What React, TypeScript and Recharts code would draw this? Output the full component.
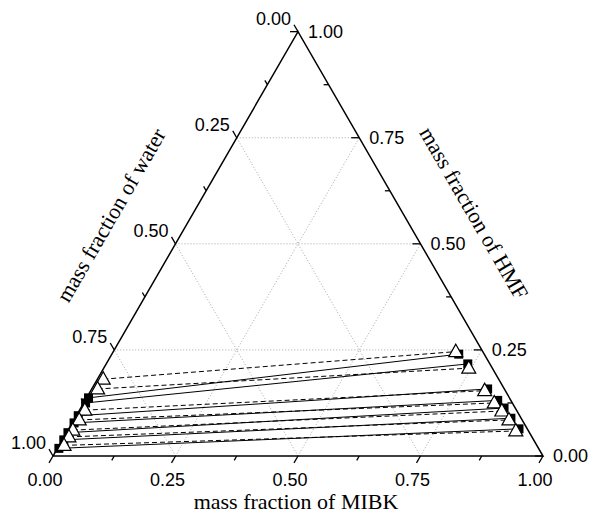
import React from 'react';
import { ScatterChart, Scatter, XAxis, YAxis, ReferenceLine } from 'recharts';

// ---------- data (mass fractions: MIBK, HMF; water = 1 - MIBK - HMF) ----------
// experimental tie lines (solid, filled squares)
const solidLeftMIBK = [0.004, 0.004, 0.004, 0.004, 0.003, 0.003, 0.003];
const solidLeftHMF = [0.137, 0.125, 0.095, 0.078, 0.055, 0.038, 0.018];
const solidRightMIBK = [0.708, 0.738, 0.808, 0.842, 0.864, 0.890, 0.919];
const solidRightHMF = [0.240, 0.217, 0.158, 0.131, 0.113, 0.089, 0.064];
// calculated tie lines (dashed, open triangles)
const dashedLeftMIBK = [0.012, 0.012, 0.011, 0.011, 0.010, 0.010, 0.010];
const dashedLeftHMF = [0.181, 0.158, 0.108, 0.085, 0.061, 0.045, 0.025];
const dashedRightMIBK = [0.699, 0.745, 0.804, 0.838, 0.863, 0.888, 0.915];
const dashedRightHMF = [0.246, 0.207, 0.154, 0.125, 0.106, 0.085, 0.059];

const majorTicks = [0, 0.25, 0.5, 0.75, 1];
const majorTickLabels = ['0.00', '0.25', '0.50', '0.75', '1.00'];
const minorTicks = [0.125, 0.375, 0.625, 0.875];
const gridValues = [0.25, 0.5, 0.75];

const titleBottom = 'mass fraction of MIBK';
const titleLeft = 'mass fraction of water';
const titleRight = 'mass fraction of HMF';

// ---------- layout ----------
const W = 593;
const H = 514;
const X0 = 53;
const Y0 = 456;
const SIDE = 490;
const xDomain = [-X0 / SIDE, (W - X0) / SIDE];
const yDomain = [(Y0 - H) / SIDE, Y0 / SIDE];
const S3 = Math.sqrt(3) / 2;
const tern = (mibk: number, hmf: number) => ({ x: mibk + hmf / 2, y: hmf * S3 });

const SANS = 'Liberation Sans, Arial, sans-serif';
const SERIF = 'Liberation Serif, Times New Roman, serif';

const MAJ = 8 / SIDE;
const MIN = 5 / SIDE;

const Square = (p: any) => (
  <rect x={p.cx - 4.5} y={p.cy - 4.5} width={9} height={9} fill="#000" />
);
const Tri = (p: any) => (
  <polygon
    points={`${p.cx},${p.cy - 7.5} ${p.cx - 7},${p.cy + 5} ${p.cx + 7},${p.cy + 5}`}
    fill="#fff"
    stroke="#000"
    strokeWidth={1.2}
  />
);
const None = () => null;

const makeText = (dx: number, dy: number, anchor: string, size: number, family: string, rot = 0) =>
  (p: any) => {
    const x = p.cx + dx;
    const y = p.cy + dy;
    return (
      <text
        x={x}
        y={y}
        textAnchor={anchor}
        fontSize={size}
        fontFamily={family}
        fill="#000"
        transform={rot ? `rotate(${rot} ${x} ${y})` : undefined}
      >
        {p.payload.label}
      </text>
    );
  };

export default function App() {
  const segs: { a: any; b: any; kind: string }[] = [];
  // grid
  gridValues.forEach((v) => {
    segs.push({ a: tern(0, v), b: tern(1 - v, v), kind: 'grid' });
    segs.push({ a: tern(v, 0), b: tern(v, 1 - v), kind: 'grid' });
    segs.push({ a: tern(1 - v, 0), b: tern(0, 1 - v), kind: 'grid' });
  });
  // ticks
  const addTicks = (vals: number[], L: number) => {
    vals.forEach((t) => {
      const b = tern(t, 0);
      segs.push({ a: b, b: { x: b.x - 0.5 * L, y: b.y - S3 * L }, kind: 'tick' });
      const l = tern(0, 1 - t);
      segs.push({ a: l, b: { x: l.x - 0.5 * L, y: l.y + S3 * L }, kind: 'tick' });
      const r = tern(1 - t, t);
      segs.push({ a: r, b: { x: r.x - L, y: r.y }, kind: 'tick' });
    });
  };
  addTicks(majorTicks, MAJ);
  addTicks(minorTicks, MIN);

  const edge = [tern(0, 0), tern(1, 0), tern(0, 1), tern(0, 0)];

  const bottomLabels = majorTicks.map((t, i) => ({ ...tern(t, 0), label: majorTickLabels[i] }));
  const leftLabels = majorTicks.map((t, i) => ({ ...tern(0, 1 - t), label: majorTickLabels[i] }));
  const rightLabels = majorTicks.map((t, i) => ({ ...tern(1 - t, t), label: majorTickLabels[i] }));

  const solidLines = solidLeftMIBK.map((m, i) => [
    tern(m, solidLeftHMF[i]),
    tern(solidRightMIBK[i], solidRightHMF[i]),
  ]);
  const dashedLines = dashedLeftMIBK.map((m, i) => [
    tern(m, dashedLeftHMF[i]),
    tern(dashedRightMIBK[i], dashedRightHMF[i]),
  ]);

  return (
    <div style={{ position: 'absolute', left: 0, top: 0, width: W, height: H, background: '#fff' }}>
      <ScatterChart width={W} height={H} margin={{ top: 0, right: 0, bottom: 0, left: 0 }}>
        <XAxis type="number" dataKey="x" domain={xDomain} hide allowDataOverflow />
        <YAxis type="number" dataKey="y" domain={yDomain} hide allowDataOverflow />
        {segs
          .filter((s) => s.kind === 'grid')
          .map((s, i) => (
            <ReferenceLine
              key={'g' + i}
              segment={[s.a, s.b]}
              stroke="#a8a8a8"
              strokeWidth={1}
              strokeDasharray="1 2"
              ifOverflow="visible"
            />
          ))}
        {segs
          .filter((s) => s.kind === 'tick')
          .map((s, i) => (
            <ReferenceLine key={'t' + i} segment={[s.a, s.b]} stroke="#000" strokeWidth={1.3} ifOverflow="visible" />
          ))}
        <Scatter
          data={edge}
          line={{ stroke: '#000', strokeWidth: 1.5 }}
          shape={None}
          isAnimationActive={false}
        />
        {solidLines.map((d, i) => (
          <Scatter
            key={'s' + i}
            data={d}
            line={{ stroke: '#000', strokeWidth: 1 }}
            shape={Square}
            isAnimationActive={false}
          />
        ))}
        {dashedLines.map((d, i) => (
          <Scatter
            key={'d' + i}
            data={d}
            line={{ stroke: '#000', strokeWidth: 1, strokeDasharray: '5 3' }}
            shape={Tri}
            isAnimationActive={false}
          />
        ))}
        <Scatter data={bottomLabels} shape={makeText(-8, 30, 'middle', 18, SANS)} isAnimationActive={false} />
        <Scatter data={leftLabels} shape={makeText(-7, -7, 'end', 18, SANS)} isAnimationActive={false} />
        <Scatter data={rightLabels} shape={makeText(10, 6, 'start', 18, SANS)} isAnimationActive={false} />
        <Scatter
          data={[{ ...tern(0.5, 0), label: titleBottom }]}
          shape={makeText(-2, 53, 'middle', 22, SERIF)}
          isAnimationActive={false}
        />
        <Scatter
          data={[{ ...tern(0, 0.5), label: titleLeft }]}
          shape={makeText(-58, -25, 'middle', 22, SERIF, -60)}
          isAnimationActive={false}
        />
        <Scatter
          data={[{ ...tern(0.5, 0.5), label: titleRight }]}
          shape={makeText(47, -27, 'middle', 22, SERIF, 60)}
          isAnimationActive={false}
        />
      </ScatterChart>
    </div>
  );
}
